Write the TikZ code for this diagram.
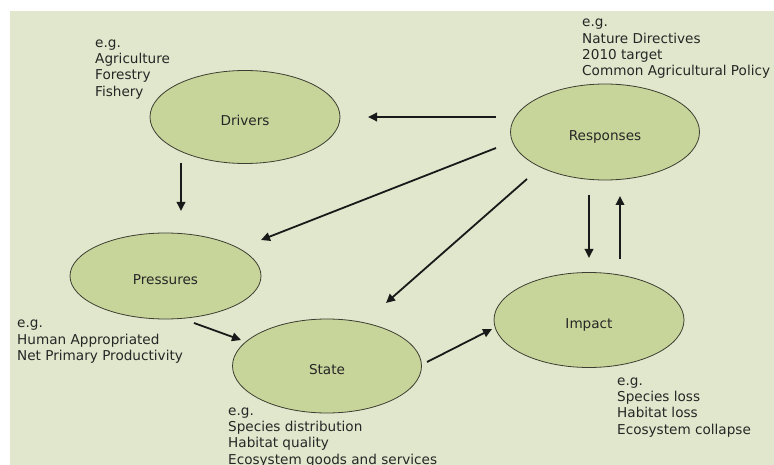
\documentclass[tikz,border=0pt]{standalone}
\usepackage{fontspec}
\setmainfont{DejaVu Sans}
\usetikzlibrary{shapes.geometric,arrows.meta,calc}

\definecolor{panelbg}{RGB}{225,231,204}
\definecolor{ovalfill}{RGB}{199,213,154}
\definecolor{ovalline}{RGB}{60,62,50}
\definecolor{ink}{RGB}{38,38,38}

\tikzset{
  dpsir/.style={ellipse, draw=ovalline, line width=0.8pt, fill=ovalfill,
    inner sep=0pt, text=ink, font=\fontsize{13.6}{16.3}\selectfont,
    text height=17pt, text depth=0pt},
  examples/.style={anchor=north west, inner sep=0pt, align=left, text=ink,
    font=\fontsize{13.6}{16.3}\selectfont},
  flow/.style={draw=black!90, line width=1.8pt,
    -{Triangle[length=9pt,width=8.5pt]}}
}

\begin{document}
\begin{tikzpicture}[x=1pt,y=-1pt]
  \useasboundingbox (0,0) rectangle (774,465);
  % backdrop panel
  \fill[panelbg] (10,11) rectangle (774,465);

  % the five stages of the DPSIR chain
  \node[dpsir, minimum width=190pt, minimum height=93pt] (drv) at (245,117) {Drivers};
  \node[dpsir, minimum width=189pt, minimum height=96pt] (resp) at (605,132) {Responses};
  \node[dpsir, minimum width=191pt, minimum height=86pt] (prs) at (165.5,276) {Pressures};
  \node[dpsir, minimum width=189pt, minimum height=94pt] (sta) at (327,366) {State};
  \node[dpsir, minimum width=190pt, minimum height=95pt] (imp) at (589,320) {Impact};

  % examples attached to each stage
  \node[examples] (drvex) at (95,35.6) {\strut e.g.\\Agriculture\\Forestry\\Fishery};
  \node[examples] (respex) at (582,15.1) {\strut e.g.\\Nature Directives\\2010 target\\Common Agricultural Policy};
  \node[examples] (prsex) at (17,316.1) {\strut e.g.\\Human Appropriated\\Net Primary Productivity};
  \node[examples] (staex) at (228,403.6) {\strut e.g.\\Species distribution\\Habitat quality\\Ecosystem goods and services};
  \node[examples] (impex) at (617,373.6) {\strut e.g.\\Species loss\\Habitat loss\\Ecosystem collapse};

  % causal links
  \draw[flow] ($(resp)+(-109,-15)$) -- ($(drv)+(123,0)$);
  \draw[flow] ($(resp)+(-109,16)$) -- ($(prs)+(95.5,-36)$);
  \draw[flow] ($(resp)+(-78,47)$) -- ($(sta)+(59,-63)$);
  \draw[flow] ($(drv)+(-64,46)$) -- ($(prs)+(15.5,-65)$);
  \draw[flow] ($(prs)+(28.5,47)$) -- ($(sta)+(-86,-26)$);
  \draw[flow] ($(sta)+(100,-4)$) -- ($(imp)+(-97,9)$);
  \draw[flow] ($(resp)+(-16,63)$) -- ($(imp)+(0,-62)$);
  \draw[flow] ($(imp)+(31,-61)$) -- ($(resp)+(15,64)$);
\end{tikzpicture}
\end{document}
